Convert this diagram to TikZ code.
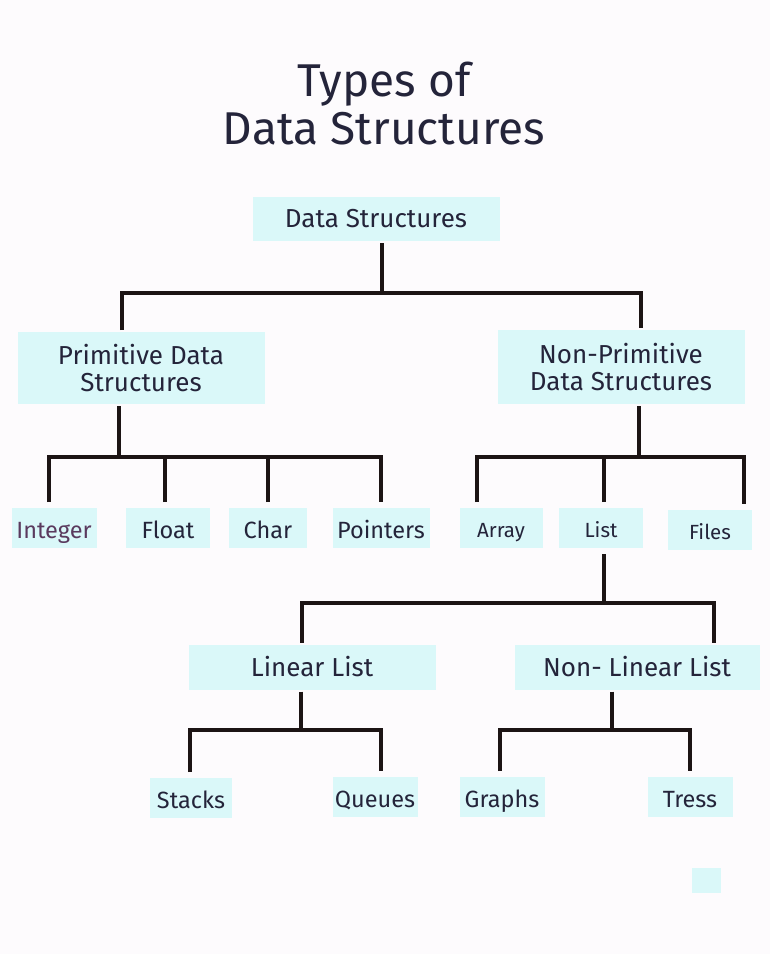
\documentclass[tikz,border=0pt]{standalone}
\usepackage{fontspec}
\setmainfont{Fira Sans}
\usepackage{tikz}
\definecolor{boxfill}{HTML}{DAF8F9}
\definecolor{ink}{HTML}{24243A}
\definecolor{wire}{HTML}{1C1414}
\definecolor{paper}{HTML}{FDFBFD}
\definecolor{plum}{HTML}{5A3A5E}

\begin{document}
\begin{tikzpicture}
[x=1pt, y=-1pt,
cell/.style={rectangle, fill=boxfill, inner sep=0pt, text=ink, align=center, font=\fontsize{26}{27}\selectfont},
big/.style={cell, minimum width=247pt, outer sep=2pt},
leaf/.style={cell, minimum width=84pt, minimum height=40pt, outer sep=6pt, text height=25pt, text depth=5pt, font=\fontsize{23.5}{26}\selectfont},
tiny/.style={leaf, text height=24pt, font=\fontsize{20.5}{22}\selectfont},
link/.style={draw=wire, line width=3.2pt}]

\fill[paper] (0,0) rectangle (770,954);
\useasboundingbox (0,0) rectangle (770,954);

% title
\node (title) at (384,104) [text=ink, align=center, font=\fontsize{46}{48}\selectfont] {Types of\\Data Structures};

% levels
\node[big, minimum height=44pt] (ds) at (376,219) {Data Structures};
\node[big, minimum height=72pt] (prim) at (141,368) {Primitive Data\\Structures};
\node[big, minimum height=74pt] (nprim) at (621,367) {Non-Primitive\\Data Structures};

\node[leaf, minimum width=85pt, text=plum] (int) at (54,528) {Integer};
\node[leaf] (flt) at (168,528) {Float};
\node[leaf, minimum width=78pt] (chr) at (268,528) {Char};
\node[leaf, minimum width=97pt] (ptr) at (381,528) {Pointers};

\node[tiny, minimum width=83pt] (arr) at (501,528) {Array};
\node[tiny] (lst) at (601,528) {List};
\node[tiny] (fil) at (710,530) {Files};

\node[big, minimum height=45pt] (lin) at (312,667) {Linear List};
\node[big, minimum width=245pt, minimum height=45pt] (nlin) at (637,667) {Non- Linear List};

\node[leaf, minimum width=82pt] (stk) at (191,798) {Stacks};
\node[leaf, minimum width=85pt] (que) at (375,797) {Queues};
\node[leaf, minimum width=85pt] (gra) at (502,797) {Graphs};
\node[leaf, minimum width=85pt] (tre) at (690,797) {Tress};

\node[cell, minimum width=29pt, minimum height=25pt] (patch) at (706,880) {};

% connectors
\coordinate (b1) at (382,293);
\coordinate (b2) at (119,457);
\coordinate (b3) at (639,457);
\coordinate (b4) at (604,603);
\coordinate (b5) at (301,730);
\coordinate (b6) at (612,730);

\draw[link] (ds.south -| b1) -- (b1);
\draw[link] ([xshift=-19pt]prim.north) |- (b1) -| ([xshift=20pt]nprim.north);

\draw[link] (prim.south -| b2) -- (b2);
\draw[link] ([xshift=-5pt]int.north) |- (b2) -| (ptr.north);
\draw[link] ([xshift=-3pt]flt.north) -- ([xshift=-3pt]flt.north |- b2);
\draw[link] (chr.north) -- (chr.north |- b2);

\draw[link] (nprim.south -| b3) -- (b3);
\draw[link] ([xshift=-24pt]arr.north) |- (b3) -| ([xshift=34pt]fil.north);
\draw[link] ([xshift=3pt]lst.north) -- ([xshift=3pt]lst.north |- b3);

\draw[link] (lst.south -| b4) -- (b4);
\draw[link] ([xshift=-10pt]lin.north) |- (b4) -| ([xshift=77pt]nlin.north);

\draw[link] (lin.south -| b5) -- (b5);
\draw[link] ([xshift=-1pt]stk.north) |- (b5) -| ([xshift=6pt]que.north);

\draw[link] (nlin.south -| b6) -- (b6);
\draw[link] ([xshift=-2pt]gra.north) |- (b6) -| (tre.north);
\end{tikzpicture}
\end{document}
